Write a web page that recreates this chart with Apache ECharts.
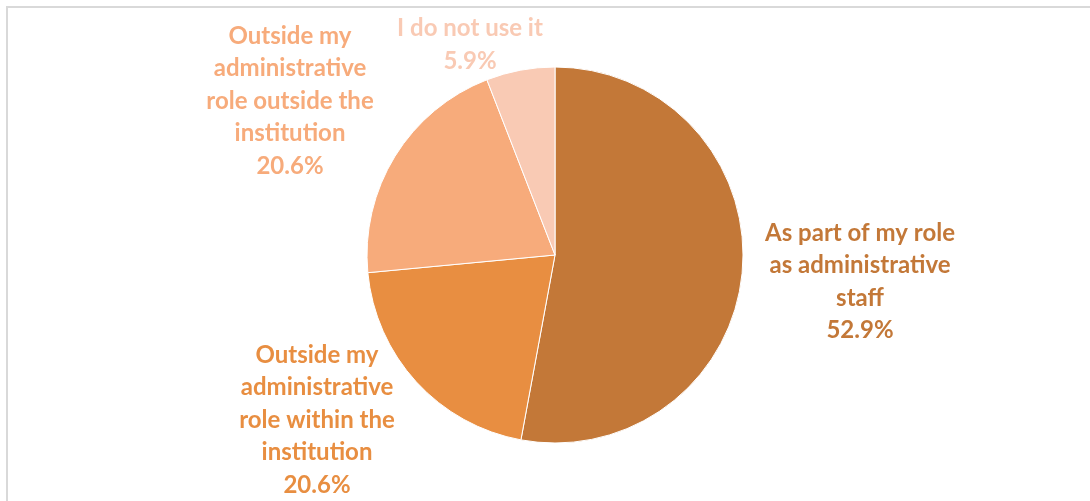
<!DOCTYPE html>
<html><head><meta charset="utf-8">
<script src="https://cdn.jsdelivr.net/npm/echarts@6/dist/echarts.min.js"></script>
<style>
html,body{margin:0;padding:0;background:#fff;}
#frame{position:absolute;left:6px;top:6px;width:1200px;height:600px;border:2px solid #D9D9D9;box-sizing:border-box;}
#c{position:absolute;left:0;top:0;width:1090px;height:501px;}
</style></head>
<body>
<div id="frame"></div>
<div id="c"></div>
<script>
const categories = [
  "As part of my role\nas administrative\nstaff",
  "Outside my\nadministrative\nrole within the\ninstitution",
  "Outside my\nadministrative\nrole outside the\ninstitution",
  "I do not use it"
];
const values = [52.9, 20.6, 20.6, 5.9];
const colors = ["#C37838", "#E88E41", "#F7AB7B", "#F9CAB4"];
const labelPos = [[860, 282], [317, 420], [290, 101], [470, 45]];

const chart = echarts.init(document.getElementById('c'), null, {renderer: 'canvas'});
chart.setOption({
  animation: false,
  series: [{
    type: 'pie',
    center: [555, 255],
    radius: 188,
    startAngle: 90,
    clockwise: true,
    percentPrecision: 1,
    data: categories.map((n, i) => ({
      name: n, value: values[i],
      itemStyle: {color: colors[i]},
      label: {color: colors[i]}
    })),
    itemStyle: {borderColor: '#fff', borderWidth: 1},
    label: {
      show: true,
      position: 'outside',
      formatter: '{b}\n{d}%',
      fontFamily: 'Lato',
      fontWeight: 'bold',
      fontSize: 24,
      lineHeight: 32.5,
      align: 'center'
    },
    labelLine: {show: false},
    labelLayout: function (p) {
      const pos = labelPos[p.dataIndex];
      return {x: pos[0], y: pos[1], align: 'center', verticalAlign: 'middle'};
    },
    emphasis: {disabled: true}
  }]
});
</script>
</body></html>
